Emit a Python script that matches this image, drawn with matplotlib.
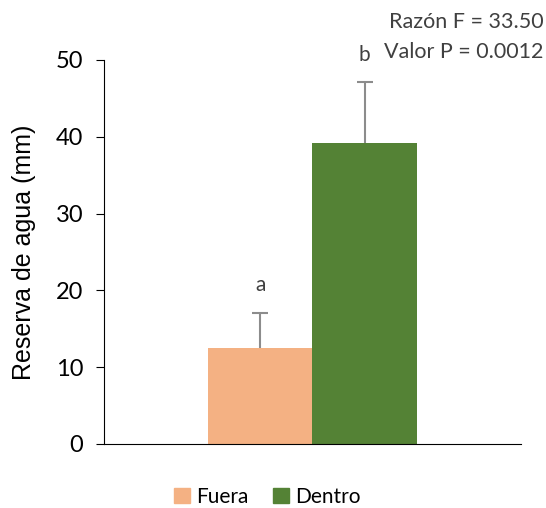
import matplotlib
matplotlib.use("Agg")
from matplotlib import pyplot as plt
from matplotlib.patches import Patch

series = ["Fuera", "Dentro"]
values = [12.5, 39.2]
errors = [4.6, 7.9]
letters = ["a", "b"]
colors = ["#f4b183", "#548235"]

fig = plt.figure(figsize=(5.46, 5.08), dpi=100)
ax = fig.add_axes([0.1905, 0.126, 0.7635, 0.756])

xpos = [-0.25, 0.25]
ax.bar(xpos, values, width=0.5, color=colors)
eb = ax.errorbar(xpos, values, yerr=[[0, 0], errors], fmt="none", ecolor="#8c8c8c",
                 elinewidth=1.5, capsize=6, capthick=1.5)
# only keep the upper cap
eb[1][0].remove()
for x, v, e, l in zip(xpos, values, errors, letters):
    ax.text(x, v + e + 2.3, l, ha="center", va="bottom", fontsize=15,
            color="#404040", family="Lato")

ax.set_xlim(-1, 1)
ax.set_ylim(0, 50)
ax.set_yticks([0, 10, 20, 30, 40, 50])
ax.set_xticks([])
ax.spines["top"].set_visible(False)
ax.spines["right"].set_visible(False)
ax.spines["left"].set_color("black")
ax.spines["bottom"].set_color("black")
ax.tick_params(axis="y", direction="out", length=6, labelsize=17, pad=9)
for t in ax.get_yticklabels():
    t.set_family("Lato")
ax.set_ylabel("Reserva de agua (mm)", fontsize=18, family="Liberation Sans", labelpad=14)

fig.text(0.995, 0.957, "Razón F = 33.50", ha="right", va="center", fontsize=15.5,
         color="#404040", family="Lato")
fig.text(0.995, 0.898, "Valor P = 0.0012", ha="right", va="center", fontsize=15.5,
         color="#404040", family="Lato")

handles = [Patch(color=c, label=s) for c, s in zip(colors, series)]
fig.legend(handles=handles, loc="center", bbox_to_anchor=(0.49, 0.022), ncol=2,
           frameon=False, handlelength=0.75, handleheight=0.75,
           handletextpad=0.3, columnspacing=1.2, prop={"family": "Lato", "size": 15})

fig.savefig("out.png", dpi=100)
